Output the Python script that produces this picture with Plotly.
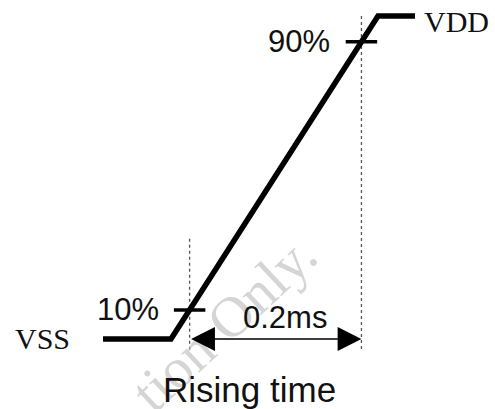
import plotly.graph_objects as go

# ---- data ----
signal_time_ms = [-0.0821, 0.0, 0.25, 0.2947]   # VSS start, ramp start, ramp end, VDD end
signal_level = [0.0, 0.0, 1.0, 1.0]              # fraction of VDD
threshold_level = [0.09, 0.92]                   # where the 10% / 90% marks sit on the ramp (as drawn)
threshold_labels = ["10%", "90%"]
rail_labels = ["VSS", "VDD"]
rise_label = "0.2ms"
caption = "Rising time"
watermark = "tion Only."

# ramp geometry derived from data
t0, t1 = signal_time_ms[1], signal_time_ms[2]
def t_at(level):
    return t0 + (t1 - t0) * level

t_lo = t_at(threshold_level[0])
t_hi = t_at(threshold_level[1])

fig = go.Figure()

# dotted guides
fig.add_trace(go.Scatter(x=[t_lo, t_lo], y=[0.31, -0.034], mode="lines",
                         line=dict(color="#555555", width=1.3, dash="dot"),
                         hoverinfo="skip", showlegend=False))
fig.add_trace(go.Scatter(x=[t_hi, t_hi], y=[1.0, -0.034], mode="lines",
                         line=dict(color="#555555", width=1.3, dash="dot"),
                         hoverinfo="skip", showlegend=False))

# threshold ticks
for lv in threshold_level:
    tc = t_at(lv)
    fig.add_trace(go.Scatter(x=[tc - 0.019, tc + 0.019], y=[lv, lv], mode="lines",
                             line=dict(color="black", width=3.5),
                             hoverinfo="skip", showlegend=False))

# signal
fig.add_trace(go.Scatter(x=signal_time_ms, y=signal_level, mode="lines",
                         line=dict(color="black", width=5.5),
                         hoverinfo="skip", showlegend=False))

ann = []
# watermark (drawn first, behind other annotations)
ann.append(dict(x=223 / 495, y=1 - 323 / 409, xref="paper", yref="paper", text=watermark,
                showarrow=False, textangle=-43, xanchor="center", yanchor="middle",
                font=dict(family="Liberation Serif, Times New Roman", size=57,
                          color="rgba(190,190,190,0.65)")))
# double-headed arrow for rise time
ann.append(dict(x=t_hi, y=0, ax=t_lo, ay=0, xref="x", yref="y",
                axref="x", ayref="y", text="", showarrow=True,
                arrowhead=2, startarrowhead=2, arrowside="end+start",
                arrowsize=3.4, startarrowsize=3.4, arrowwidth=1.4, arrowcolor="black",
                standoff=0, startstandoff=0))
ann.append(dict(x=(t_lo + t_hi) / 2, y=0, xref="x", yref="y", text=rise_label,
                showarrow=False, xshift=9, yshift=22, xanchor="center", yanchor="middle",
                font=dict(family="Liberation Sans, Arial", size=31, color="#111")))
# threshold labels
for lv, lab in zip(threshold_level, threshold_labels):
    ann.append(dict(x=t_at(lv), y=lv, xref="x", yref="y", text=lab,
                    showarrow=False, xanchor="right", yanchor="middle", xshift=-29,
                    font=dict(family="Liberation Sans, Arial", size=31, color="#111")))
# rail labels
ann.append(dict(x=signal_time_ms[0], y=signal_level[0], xref="x", yref="y", text=rail_labels[0],
                showarrow=False, xanchor="right", yanchor="middle", xshift=-31, yshift=1,
                font=dict(family="Liberation Serif, Times New Roman", size=30, color="#111")))
ann.append(dict(x=signal_time_ms[-1], y=signal_level[-1], xref="x", yref="y", text=rail_labels[1],
                showarrow=False, xanchor="left", yanchor="middle", xshift=7, yshift=-6,
                font=dict(family="Liberation Serif, Times New Roman", size=30, color="#111")))
# caption
ann.append(dict(x=249 / 495, y=1 - 389 / 409, xref="paper", yref="paper", text=caption,
                showarrow=False, xanchor="center", yanchor="middle",
                font=dict(family="Liberation Sans, Arial", size=35, color="#111")))

fig.update_layout(
    width=495, height=409,
    margin=dict(l=0, r=0, t=0, b=0),
    paper_bgcolor="white", plot_bgcolor="white",
    xaxis=dict(range=[-0.2065, 0.3913], visible=False, fixedrange=True),
    yaxis=dict(range=[-0.2167, 1.0495], visible=False, fixedrange=True),
    annotations=ann,
    showlegend=False,
)

fig.write_html("out.html", config={"displayModeBar": False},
               post_script="document.body.style.margin='0';document.body.style.overflow='hidden';")
